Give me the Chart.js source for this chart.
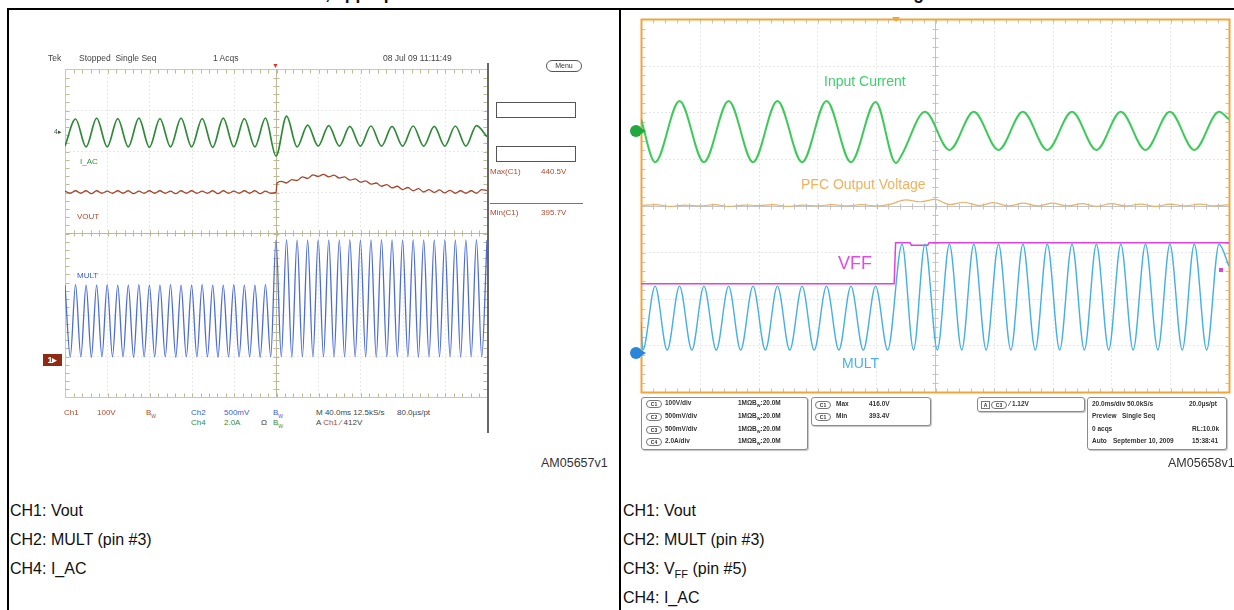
<!DOCTYPE html>
<html>
<head>
<meta charset="utf-8">
<script src="https://cdn.jsdelivr.net/npm/chart.js@4.4.1/dist/chart.umd.min.js"></script>
<style>
  html, body { margin: 0; padding: 0; background: #fff; }
  #page { position: relative; width: 1234px; height: 610px; overflow: hidden; font-family: "Liberation Sans", Arial, sans-serif; color: #111; }
  .t { position: absolute; white-space: nowrap; line-height: 1; }
  .ln { position: absolute; background: #000; }
  canvas { position: absolute; }
  .hd { font-size: 8.5px; color: #444; }
  .s8 { font-size: 8px; }
  .c1 { color: #b04a2c; }
  .c2 { color: #3a5fcd; }
  .c4 { color: #2f8f3a; }
  .gr { color: #444; }
  .cap { font-size: 16px; color: #111; }
  .box { position: absolute; border: 1px solid #8a8a8a; border-radius: 3px; background: #fff; box-shadow: 1px 1px 1px #c4c4c4; }
  .box .t { font-size: 6.5px; font-weight: bold; color: #333; }
  .box .ov { border: 1px solid #777; border-radius: 4px; width: 14px; height: 6px; line-height: 6px; font-size: 5px; text-align: center; }
</style>
</head>
<body>
<div id="page">
  <!-- clipped heading, only descenders show -->
  <div class="t" style="left:197px;top:-15px;font-size:17.5px;font-weight:bold;line-height:17.5px">Mains transient, appropriate VFF time constant and the MULT reaction to the line change</div>

  <div class="ln" style="left:7px;top:8px;width:1227px;height:2px"></div>
  <div class="ln" style="left:7px;top:8px;width:2px;height:602px"></div>
  <div class="ln" style="left:619px;top:8px;width:2px;height:602px"></div>

  <!-- left scope -->
  <canvas id="leftScope" width="438" height="344" style="left:57px;top:61px"></canvas>
  <div class="t hd" style="left:48px;top:54px">Tek</div>
  <div class="t hd" style="left:79px;top:54px">Stopped&nbsp; Single Seq</div>
  <div class="t hd" style="left:213px;top:54px">1 Acqs</div>
  <div class="t hd" style="left:383px;top:54px">08 Jul 09 11:11:49</div>
  <div class="t" style="left:272px;top:62px;font-size:7px;color:#e0302a">&#9660;</div>
  <div class="t" style="left:546px;top:60px;width:34px;height:10px;border:1px solid #555;border-radius:6px;font-size:7px;line-height:10px;text-align:center;color:#333">Menu</div>
  <div class="t" style="left:496px;top:102px;width:78px;height:14px;border:1px solid #555"></div>
  <div class="t" style="left:496px;top:146px;width:78px;height:14px;border:1px solid #555"></div>
  <div class="t s8 c1" style="left:490px;top:168px">Max(C1)</div>
  <div class="t s8 c1" style="left:541px;top:168px">440.5V</div>
  <div class="ln" style="left:490px;top:203px;width:93px;height:1px;background:#777"></div>
  <div class="t s8 c1" style="left:490px;top:209px">Min(C1)</div>
  <div class="t s8 c1" style="left:541px;top:209px">395.7V</div>
  <div class="ln" style="left:487px;top:63px;width:2px;height:370px;background:#666"></div>
  <div class="t" style="left:54px;top:128px;font-size:7px;color:#3b5b3b">4&#9656;</div>
  <div class="t s8 c4" style="left:80px;top:158px">I_AC</div>
  <div class="t s8 c1" style="left:77px;top:213px">VOUT</div>
  <div class="t s8 c2" style="left:77px;top:272px">MULT</div>
  <div class="t" style="left:43px;top:354px;width:19px;height:12px;background:#8e2b12;color:#fff;font-size:9px;font-weight:bold;line-height:12px;text-align:center">1&#9656;</div>
  <div class="t s8 c1" style="left:64px;top:409px">Ch1</div>
  <div class="t s8 c1" style="left:97px;top:409px">100V</div>
  <div class="t s8 c1" style="left:146px;top:409px">B<sub style="font-size:5px">W</sub></div>
  <div class="t s8 c2" style="left:191px;top:409px">Ch2</div>
  <div class="t s8 c2" style="left:224px;top:409px">500mV</div>
  <div class="t s8 c2" style="left:273px;top:409px">B<sub style="font-size:5px">W</sub></div>
  <div class="t s8 gr" style="left:316px;top:409px">M 40.0ms 12.5kS/s</div>
  <div class="t s8 gr" style="left:397px;top:409px">80.0&micro;s/pt</div>
  <div class="t s8 c4" style="left:191px;top:419px">Ch4</div>
  <div class="t s8 c4" style="left:224px;top:419px">2.0A</div>
  <div class="t s8 gr" style="left:261px;top:419px">&Omega;</div>
  <div class="t s8 c4" style="left:273px;top:419px">B<sub style="font-size:5px">W</sub></div>
  <div class="t s8 gr" style="left:316px;top:419px">A <span class="c1">Ch1</span> &#8260; 412V</div>
  <div class="t" style="left:541px;top:457px;font-size:12.5px;color:#333">AM05657v1</div>

  <!-- right scope -->
  <canvas id="rightScope" width="600" height="389" style="left:633px;top:11px"></canvas>
  <div class="t" style="left:892px;top:17px;width:0;height:0;border-left:4px solid transparent;border-right:4px solid transparent;border-top:5px solid #f2a43a"></div>
  <div class="t" style="left:824px;top:74px;font-size:14px;color:#3ecf6e">Input Current</div>
  <div class="t" style="left:801px;top:177px;font-size:14px;color:#f2b25c">PFC Output Voltage</div>
  <div class="t" style="left:838px;top:254px;font-size:18px;color:#e24ae2">VFF</div>
  <div class="t" style="left:842px;top:356px;font-size:14px;color:#4ab2e2">MULT</div>
  <div class="t" style="left:630px;top:125px;width:12px;height:12px;border-radius:50%;background:#22a83c"></div>
  <div class="t" style="left:641px;top:128px;width:0;height:0;border-top:3px solid transparent;border-bottom:3px solid transparent;border-left:5px solid #22a83c"></div>
  <div class="t" style="left:630px;top:347px;width:12px;height:12px;border-radius:50%;background:#2a86d8"></div>
  <div class="t" style="left:641px;top:350px;width:0;height:0;border-top:3px solid transparent;border-bottom:3px solid transparent;border-left:5px solid #2a86d8"></div>
  <div class="t" style="left:1219px;top:268px;width:4px;height:4px;background:#e040e0"></div>

  <div class="box" style="left:641px;top:397px;width:165px;height:51px">
    <div class="t ov" style="left:4px;top:2px">C1</div><div class="t" style="left:23px;top:2px">100V/div</div><div class="t" style="left:96px;top:2px">1M&Omega;</div><div class="t" style="left:110px;top:2px">B<sub style="font-size:4px">W</sub>:20.0M</div>
    <div class="t ov" style="left:4px;top:15px">C2</div><div class="t" style="left:23px;top:15px">500mV/div</div><div class="t" style="left:96px;top:15px">1M&Omega;</div><div class="t" style="left:110px;top:15px">B<sub style="font-size:4px">W</sub>:20.0M</div>
    <div class="t ov" style="left:4px;top:28px">C3</div><div class="t" style="left:23px;top:28px">500mV/div</div><div class="t" style="left:96px;top:28px">1M&Omega;</div><div class="t" style="left:110px;top:28px">B<sub style="font-size:4px">W</sub>:20.0M</div>
    <div class="t ov" style="left:4px;top:40px">C4</div><div class="t" style="left:23px;top:40px">2.0A/div</div><div class="t" style="left:96px;top:40px">1M&Omega;</div><div class="t" style="left:110px;top:40px">B<sub style="font-size:4px">W</sub>:20.0M</div>
  </div>
  <div class="box" style="left:811px;top:397px;width:118px;height:27px">
    <div class="t ov" style="left:3px;top:3px">C1</div><div class="t" style="left:24px;top:3px">Max</div><div class="t" style="left:57px;top:3px">416.0V</div>
    <div class="t ov" style="left:3px;top:15px">C1</div><div class="t" style="left:24px;top:15px">Min</div><div class="t" style="left:57px;top:15px">393.4V</div>
  </div>
  <div class="box" style="left:977px;top:397px;width:106px;height:13px">
    <div class="t" style="left:3px;top:3px;border:1px solid #777;width:7px;height:6px;line-height:6px;font-size:5px;text-align:center">A</div>
    <div class="t ov" style="left:13px;top:3px">C3</div><div class="t" style="left:31px;top:3px">&#8260; 1.12V</div>
  </div>
  <div class="box" style="left:1087px;top:397px;width:138px;height:51px">
    <div class="t" style="left:4px;top:3px">20.0ms/div 50.0kS/s</div><div class="t" style="left:101px;top:3px">20.0&micro;s/pt</div>
    <div class="t" style="left:4px;top:15px">Preview</div><div class="t" style="left:34px;top:15px">Single Seq</div>
    <div class="t" style="left:4px;top:28px">0 acqs</div><div class="t" style="left:104px;top:28px">RL:10.0k</div>
    <div class="t" style="left:4px;top:40px">Auto</div><div class="t" style="left:25px;top:40px">September 10, 2009</div><div class="t" style="left:104px;top:40px">15:38:41</div>
  </div>
  <div class="t" style="left:1168px;top:457px;font-size:12.5px;color:#333">AM05658v1</div>

  <!-- captions -->
  <div class="t cap" style="left:10px;top:503px">CH1: Vout</div>
  <div class="t cap" style="left:10px;top:532px">CH2: MULT (pin #3)</div>
  <div class="t cap" style="left:10px;top:561px">CH4: I_AC</div>
  <div class="t cap" style="left:623px;top:503px">CH1: Vout</div>
  <div class="t cap" style="left:623px;top:532px">CH2: MULT (pin #3)</div>
  <div class="t cap" style="left:623px;top:561px">CH3: V<sub style="font-size:11px">FF</sub> (pin #5)</div>
  <div class="t cap" style="left:623px;top:590px">CH4: I_AC</div>
</div>

<script>
// left scope: time in ms (40 ms/div), values in screen divisions (0 = bottom)
const leftIacT = [0,10,20,30,40,50,60,70,80,90,100,110,120,130,140,150,160,170,180,190,200,
  210,220,230,240,250,260,270,280,290,300,310,320,330,340,350,360,370,380,390,400];
const leftIacV = [6.12,6.78,6.1,6.8,6.1,6.79,6.1,6.8,6.09,6.79,6.1,6.8,6.1,6.79,6.09,6.8,6.1,6.79,6.1,6.8,5.88,
  6.85,6.1,6.63,6.12,6.62,6.12,6.6,6.12,6.61,6.12,6.6,6.12,6.61,6.12,6.6,6.12,6.61,6.12,6.62,6.35];

const leftVoutT = [0,5,10,15,20,25,30,35,40,45,50,55,60,65,70,75,80,85,90,95,
  100,105,110,115,120,125,130,135,140,145,150,155,160,165,170,175,180,185,190,195,200,201,
  205,210,215,220,225,230,235,240,245,250,255,260,265,270,275,280,285,290,295,300,
  305,310,315,320,325,330,335,340,345,350,355,360,365,370,375,380,385,390,395,400];
const leftVoutV = [5.02,4.97,5.03,4.97,5.03,4.96,5.03,4.97,5.02,4.97,5.03,4.97,5.03,4.96,5.02,4.97,5.03,4.97,5.03,4.97,
  5.02,4.96,5.03,4.97,5.03,4.97,5.02,4.97,5.03,4.96,5.03,4.97,5.02,4.97,5.03,4.97,5.03,4.96,5.02,4.97,4.99,5.22,
  5.26,5.22,5.3,5.28,5.37,5.33,5.42,5.38,5.43,5.37,5.41,5.34,5.37,5.29,5.32,5.24,5.27,5.19,5.22,5.14,
  5.18,5.1,5.14,5.06,5.11,5.03,5.08,5.0,5.06,4.99,5.05,4.98,5.04,4.97,5.03,4.97,5.03,4.97,5.06,5.04];

const leftMultT = [0,5,10,15,20,25,30,35,40,45,50,55,60,65,70,75,80,85,90,95,
  100,105,110,115,120,125,130,135,140,145,150,155,160,165,170,175,180,185,190,195,200,
  205,210,215,220,225,230,235,240,245,250,255,260,265,270,275,280,285,290,295,300,
  305,310,315,320,325,330,335,340,345,350,355,360,365,370,375,380,385,390,395,400];
const leftMultV = [2.73,0.98,2.74,0.98,2.73,0.97,2.73,0.98,2.74,0.98,
  2.73,0.98,2.73,0.97,2.74,0.98,2.73,0.98,2.73,0.98,
  2.74,0.97,2.73,0.98,2.73,0.98,2.74,0.98,2.73,0.97,
  2.73,0.98,2.74,0.98,2.73,0.98,2.73,0.97,2.74,0.98,3.83,
  0.98,3.84,0.97,3.83,0.98,3.83,0.98,3.84,0.98,3.83,
  0.97,3.83,0.98,3.84,0.98,3.83,0.98,3.83,0.97,3.84,
  0.98,3.83,0.98,3.83,0.98,3.84,0.97,3.83,0.98,3.83,
  0.98,3.84,0.98,3.83,0.97,3.83,0.98,3.84,0.98,3.83];

// right scope: time in ms (20 ms/div), values in screen divisions
const rightIacT = [0,4.8,13.1,21.4,29.8,38.1,46.4,54.8,63.1,71.4,79.8,86.7,88.8,
  96.6,104.9,113.2,121.6,129.9,138.2,146.6,154.9,163.2,171.6,179.9,188.2,196.6,200];
const rightIacV = [5.85,4.93,6.24,4.93,6.24,4.93,6.24,4.93,6.24,4.93,6.22,4.91,5.1,
  6.01,5.19,6.01,5.19,6.01,5.19,6.01,5.19,6.01,5.19,6.01,5.19,6.01,5.85];

const rightVoutT = [0,5,10,15,20,25,30,35,40,45,50,55,60,65,70,75,80,85,90,95,
  100,105,110,115,120,125,130,135,140,145,150,155,160,165,170,175,180,185,190,195,200];
const rightVoutV = [4.0,4.02,3.98,4.01,3.99,4.02,3.98,4.01,4.0,4.02,3.98,4.01,3.99,4.02,3.99,4.02,3.99,4.03,4.12,4.08,
  4.13,4.02,4.07,4.0,4.06,3.99,4.05,3.99,4.05,3.99,4.04,3.98,4.04,3.99,4.03,3.98,4.03,3.99,4.03,3.99,4.02];

const rightVffT = [0,86.1,86.6,91.5,92.0,97.5,98.0,200];
const rightVffV = [2.32,2.32,3.2,3.2,3.15,3.15,3.2,3.2];

const rightMultT = [0,0.6,4.8,8.9,13.1,17.3,21.4,25.6,29.8,33.9,38.1,42.3,46.4,50.6,54.8,58.9,63.1,67.3,71.4,75.6,79.8,83.9,
  88.8,92.7,96.6,100.8,104.9,109.1,113.2,117.4,121.6,125.8,129.9,134.1,138.2,142.4,146.6,150.8,154.9,159.1,
  163.2,167.4,171.6,175.8,179.9,184.1,188.2,192.4,196.6,200];
const rightMultV = [1.5,0.9,2.27,0.9,2.27,0.9,2.27,0.9,2.27,0.9,2.27,0.9,2.27,0.9,2.27,0.9,2.27,0.9,2.27,0.9,2.27,0.9,
  3.17,0.9,3.17,0.9,3.17,0.9,3.17,0.9,3.17,0.9,3.17,0.9,3.17,0.9,3.17,0.9,3.17,0.9,
  3.17,0.9,3.17,0.9,3.17,0.9,3.17,0.9,3.17,2.7];

function pts(t, v) {
  return t.map(function (x, i) { return { x: x, y: v[i] }; });
}

// graticule: dotted divisions, ticked centre cross, ticked frame
const scopeGrid = {
  id: 'scopeGrid',
  beforeDatasetsDraw(chart, args, o) {
    const ctx = chart.ctx, xs = chart.scales.x, ys = chart.scales.y;
    const gx = [], gy = [];
    for (let i = 0; i <= 10; i++) gx.push(Math.round(xs.getPixelForValue(xs.min + (xs.max - xs.min) * i / 10)) + 0.5);
    for (let j = 0; j <= 8; j++) gy.push(Math.round(ys.getPixelForValue(j)) + 0.5);
    const L = gx[0], R = gx[10], B = gy[0], T = gy[8];
    const line = function (a, b, c, d) { ctx.beginPath(); ctx.moveTo(a, b); ctx.lineTo(c, d); ctx.stroke(); };
    ctx.save();
    ctx.lineWidth = 1;
    ctx.strokeStyle = o.dot;
    ctx.setLineDash([1, 3]);
    for (let i = 1; i < 10; i++) if (i !== 5) line(gx[i], T, gx[i], B);
    for (let j = 1; j < 8; j++) if (j !== 4) line(L, gy[j], R, gy[j]);
    ctx.setLineDash([]);
    ctx.strokeStyle = o.center;
    line(gx[5], T, gx[5], B);
    line(L, gy[4], R, gy[4]);
    const dx = (R - L) / 50, dy = (B - T) / 40;
    for (let k = 1; k < 50; k++) {
      const px = Math.round(L + k * dx) + 0.5;
      line(px, gy[4] - 3, px, gy[4] + 3);
      line(px, T, px, T + 4);
      line(px, B, px, B - 4);
    }
    for (let k = 1; k < 40; k++) {
      const py = Math.round(T + k * dy) + 0.5;
      line(gx[5] - 3, py, gx[5] + 3, py);
      line(L, py, L + 4, py);
      line(R, py, R - 4, py);
    }
    ctx.strokeStyle = o.frame;
    ctx.lineWidth = o.frameWidth;
    ctx.strokeRect(L, T, R - L, B - T);
    ctx.restore();
  }
};

function scope(id, xmax, pad, datasets, grid) {
  return new Chart(document.getElementById(id), {
    type: 'line',
    data: { datasets: datasets },
    options: {
      responsive: false,
      animation: false,
      devicePixelRatio: 1,
      events: [],
      layout: { padding: pad },
      plugins: { legend: { display: false }, tooltip: { enabled: false }, scopeGrid: grid },
      scales: {
        x: { type: 'linear', min: 0, max: xmax, display: false },
        y: { type: 'linear', min: 0, max: 8, display: false }
      },
      elements: { point: { radius: 0 }, line: { cubicInterpolationMode: 'monotone' } }
    },
    plugins: [scopeGrid]
  });
}

scope('leftScope', 400, 8, [
  { data: pts(leftVoutT, leftVoutV), borderColor: '#a4452a', borderWidth: 1.3 },
  { data: pts(leftMultT, leftMultV), borderColor: '#4c6cd6', borderWidth: 1.3 },
  { data: pts(leftIacT, leftIacV), borderColor: '#2f8a38', borderWidth: 1.7 }
], { dot: '#d2d2d2', center: '#bdb993', frame: '#c9c9b8', frameWidth: 1 });

scope('rightScope', 200, { left: 8, right: 4, top: 8, bottom: 8 }, [
  { data: pts(rightVoutT, rightVoutV), borderColor: '#e6b26c', borderWidth: 1.2 },
  { data: pts(rightMultT, rightMultV), borderColor: '#45b0e4', borderWidth: 1.4 },
  { data: pts(rightVffT, rightVffV), borderColor: '#e040e0', borderWidth: 1.5, cubicInterpolationMode: 'default', tension: 0 },
  { data: pts(rightIacT, rightIacV), borderColor: '#3ccb58', borderWidth: 2 }
], { dot: '#d0d0d0', center: '#c4c4c4', frame: '#f2a43a', frameWidth: 2 });
</script>
</body>
</html>
